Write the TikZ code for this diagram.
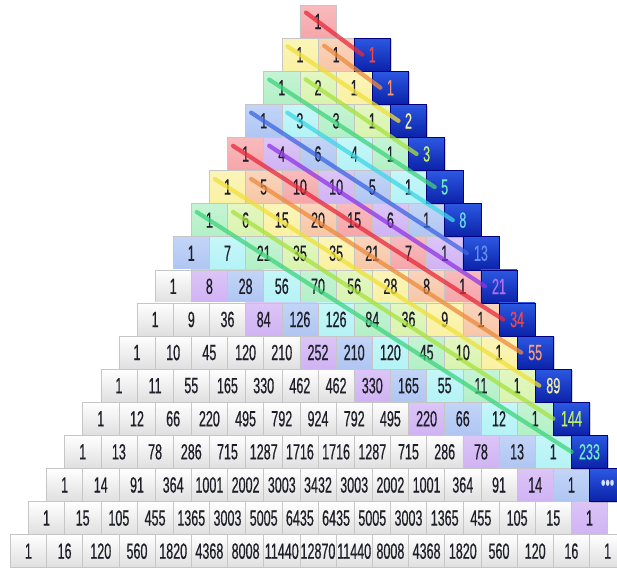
\documentclass[tikz,border=0pt]{standalone}
\usepackage{fontspec}
\setmainfont{Liberation Sans}[FakeStretch=0.57,FakeBold=0.5]
\usetikzlibrary{calc,shadows}

\definecolor{fcol0}{HTML}{F6A5A8}
\definecolor{fcol1}{HTML}{F8C6A6}
\definecolor{fcol2}{HTML}{FAF1A2}
\definecolor{fcol3}{HTML}{D9F4AE}
\definecolor{fcol4}{HTML}{B2F0C6}
\definecolor{fcol5}{HTML}{B3F3F6}
\definecolor{fcol6}{HTML}{AFC6F3}
\definecolor{fcol7}{HTML}{D0B2F4}
\definecolor{lcol0}{HTML}{E8283A}
\definecolor{lcol1}{HTML}{EE8A3C}
\definecolor{lcol2}{HTML}{F0E03A}
\definecolor{lcol3}{HTML}{A6E23E}
\definecolor{lcol4}{HTML}{3ED47C}
\definecolor{lcol5}{HTML}{3CD6E6}
\definecolor{lcol6}{HTML}{3A66E2}
\definecolor{lcol7}{HTML}{9034E6}
\definecolor{tcol0}{HTML}{F04848}
\definecolor{tcol1}{HTML}{F49A80}
\definecolor{tcol2}{HTML}{F4F0A8}
\definecolor{tcol3}{HTML}{BEF06A}
\definecolor{tcol4}{HTML}{70E8C8}
\definecolor{tcol5}{HTML}{6CD8F4}
\definecolor{tcol6}{HTML}{6090F2}
\definecolor{tcol7}{HTML}{B070F0}
\definecolor{bluetop}{HTML}{2C58E2}
\definecolor{bluebot}{HTML}{0B22A8}
\definecolor{dotcol}{HTML}{D8E0FF}
\definecolor{celltext}{HTML}{1E1E28}

\newcommand\pascalrow[2]{%
  \foreach \v [count=\kk from 0] in {#2} {%
    \pgfmathtruncatemacro\mm{2*#1-\kk+1}%
    \pgfmathtruncatemacro\ci{mod(\mm-1,8)}%
    \pgfmathsetmacro\cx{318+(\kk-#1/2)*36.2}%
    \pgfmathsetmacro\cy{5+(#1+0.5)*33.1}%
    \ifnum\mm>16
      \node[cell, top color=white, bottom color=gray!25] (c#1-\kk) at (\cx,\cy) {\v};
    \else
      \node[cell, top color=fcol\ci!75!white, bottom color=fcol\ci] (c#1-\kk) at (\cx,\cy) {\v};
    \fi
  }%
}

\begin{document}
\begin{tikzpicture}[x=1pt,y=-1pt,
  cell/.style={minimum width=36.2pt, minimum height=33.1pt, inner sep=0pt,
    draw=gray!45, line width=0.5pt, text=celltext, font=\fontsize{22}{22}\selectfont},
  bluecell/.style={cell, draw=blue!50!black, top color=bluetop, bottom color=bluebot,
    drop shadow={opacity=0.35, shadow xshift=1.2pt, shadow yshift=-1.2pt}},
  fibline/.style={line width=4.2pt, opacity=0.75, line cap=round}]
\useasboundingbox (0,0) rectangle (617,568);

\pascalrow{0}{1}
\pascalrow{1}{1,1}
\pascalrow{2}{1,2,1}
\pascalrow{3}{1,3,3,1}
\pascalrow{4}{1,4,6,4,1}
\pascalrow{5}{1,5,10,10,5,1}
\pascalrow{6}{1,6,15,20,15,6,1}
\pascalrow{7}{1,7,21,35,35,21,7,1}
\pascalrow{8}{1,8,28,56,70,56,28,8,1}
\pascalrow{9}{1,9,36,84,126,126,84,36,9,1}
\pascalrow{10}{1,10,45,120,210,252,210,120,45,10,1}
\pascalrow{11}{1,11,55,165,330,462,462,330,165,55,11,1}
\pascalrow{12}{1,12,66,220,495,792,924,792,495,220,66,12,1}
\pascalrow{13}{1,13,78,286,715,1287,1716,1716,1287,715,286,78,13,1}
\pascalrow{14}{1,14,91,364,1001,2002,3003,3432,3003,2002,1001,364,91,14,1}
\pascalrow{15}{1,15,105,455,1365,3003,5005,6435,6435,5005,3003,1365,455,105,15,1}
\pascalrow{16}{1,16,120,560,1820,4368,8008,11440,12870,11440,8008,4368,1820,560,120,16,1}

\foreach \n/\f in {1/1,2/1,3/2,4/3,5/5,6/8,7/13,8/21,9/34,10/55,11/89,12/144,13/233} {
  \pgfmathtruncatemacro\ci{mod(\n-1,8)}
  \node[bluecell, text=tcol\ci] (b\n) at ({318+(\n+2)*18.1},{5+(\n+0.5)*33.1}) {\f};
}
\node[bluecell, text=dotcol] (b14) at ({318+16*18.1},{5+14.5*33.1}) {\fontsize{22}{22}\selectfont •••};

\foreach \m/\r/\k/\off in {1/0/0/10, 2/1/1/10, 3/1/0/10, 4/2/1/10, 5/2/0/10, 6/3/1/10,
    7/3/0/14, 8/4/1/14, 9/4/0/14, 10/5/1/14, 11/5/0/14, 12/6/1/18, 13/6/0/18} {
  \pgfmathtruncatemacro\ci{mod(\m-1,8)}
  \coordinate (e\m) at ($(b\m.center)+(-\off,0)$);
  \draw[fibline, draw=lcol\ci] ($(c\r-\k.center)!-15pt!(e\m)$) -- (e\m);
}
\end{tikzpicture}
\end{document}
